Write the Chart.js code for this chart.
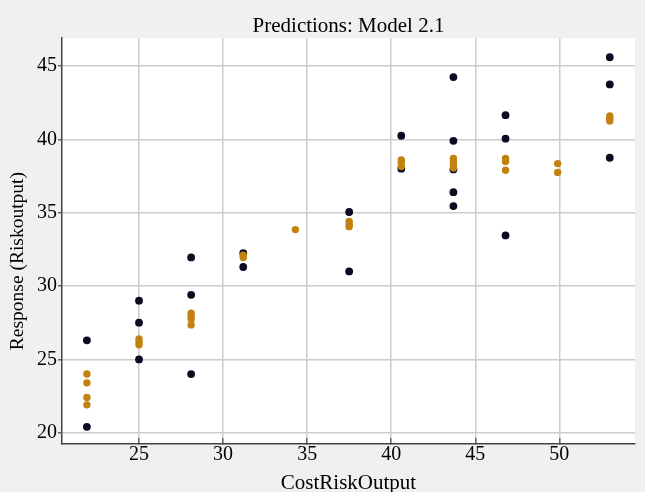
<!DOCTYPE html>
<html>
<head>
<meta charset="utf-8">
<script src="https://cdn.jsdelivr.net/npm/chart.js@4"></script>
<style>
  body { margin: 0; background: #f0f0f0; }
  #wrap { width: 645px; height: 492px; }
</style>
</head>
<body>
<div id="wrap"><canvas id="predChart"></canvas></div>
<script>
// x positions of the design points (CostRiskOutput)
const xLevels = [21.9, 25.0, 28.1, 31.2, 34.3, 37.5, 40.6, 43.7, 46.8, 49.9, 53.0];

// observed responses per x level
const observed = [
  [26.3, 20.4],
  [29.0, 27.5, 25.0],
  [31.95, 29.4, 24.0],
  [32.25, 31.3],
  [],
  [35.05, 31.0],
  [40.25, 38.0],
  [44.25, 39.9, 37.95, 36.4, 35.45],
  [41.65, 40.05, 33.45],
  [],
  [45.6, 43.75, 38.75]
];

// model predictions per x level
const predicted = [
  [24.0, 23.4, 22.4, 21.9],
  [26.4, 26.2, 26.0],
  [28.15, 27.95, 27.75, 27.35],
  [32.1, 31.95],
  [33.85],
  [34.4, 34.2, 34.05],
  [38.6, 38.4, 38.15],
  [38.7, 38.45, 38.25, 38.05],
  [38.7, 38.5, 37.9],
  [38.35, 37.75],
  [41.6, 41.45, 41.25]
];

const xTicks = [25, 30, 35, 40, 45, 50];
const yTicks = [20, 25, 30, 35, 40, 45];

function toPoints(groups) {
  const pts = [];
  groups.forEach((ys, i) => ys.forEach(y => pts.push({ x: xLevels[i], y: y })));
  return pts;
}

const serif = 'Liberation Serif, Times New Roman, serif';

const plotBg = {
  id: 'plotBg',
  beforeDraw(chart) {
    const { ctx, chartArea } = chart;
    ctx.save();
    ctx.fillStyle = '#f0f0f0';
    ctx.fillRect(0, 0, chart.width, chart.height);
    ctx.fillStyle = '#ffffff';
    ctx.fillRect(chartArea.left, chartArea.top, chartArea.right - chartArea.left, chartArea.bottom - chartArea.top);
    ctx.restore();
  }
};

// y axis title sits a bit below the middle of the axis in the original
const yTitle = {
  id: 'yTitle',
  afterDraw(chart) {
    const { ctx, chartArea } = chart;
    ctx.save();
    ctx.translate(18, (chartArea.top + chartArea.bottom) / 2 + 20);
    ctx.rotate(-Math.PI / 2);
    ctx.font = '19.5px ' + serif;
    ctx.fillStyle = '#000';
    ctx.textAlign = 'center';
    ctx.textBaseline = 'middle';
    ctx.fillText('Response (Riskoutput)', 0, 0);
    ctx.restore();
  }
};

new Chart(document.getElementById('predChart'), {
  type: 'scatter',
  data: {
    datasets: [{
      label: 'Predicted',
      data: toPoints(predicted),
      backgroundColor: '#c2820f',
      borderWidth: 0,
      pointRadius: 3.7
    }, {
      label: 'Observed',
      data: toPoints(observed),
      backgroundColor: '#0b0b22',
      borderWidth: 0,
      pointRadius: 3.9
    }]
  },
  options: {
    responsive: true,
    maintainAspectRatio: false,
    animation: false,
    layout: { padding: { left: 0, right: 10, top: 0, bottom: 0 } },
    plugins: {
      legend: { display: false },
      tooltip: { enabled: false },
      title: {
        display: true,
        text: 'Predictions: Model 2.1',
        fullSize: false,
        color: '#000',
        font: { family: serif, size: 21, weight: 'normal' },
        padding: { top: 14, bottom: -1 }
      }
    },
    scales: {
      x: {
        type: 'linear',
        min: 20.42,
        max: 54.5,
        afterBuildTicks: s => { s.ticks = xTicks.map(v => ({ value: v })); },
        afterFit: s => { s.height = 48; },
        grid: { color: '#cccccc', lineWidth: 1.5, drawTicks: true, tickLength: -6, tickColor: '#666' },
        border: { color: '#444', width: 1.5 },
        ticks: { color: '#000', padding: 5, font: { family: serif, size: 20 } },
        title: {
          display: true,
          text: 'CostRiskOutput',
          color: '#000',
          font: { family: serif, size: 21 },
          padding: { top: 0, bottom: -4 }
        }
      },
      y: {
        type: 'linear',
        min: 19.23,
        max: 46.9,
        afterBuildTicks: s => { s.ticks = yTicks.map(v => ({ value: v })); },
        afterFit: s => { s.width = 62; },
        grid: { color: '#cccccc', lineWidth: 1.5, drawTicks: true, tickLength: 4, tickColor: '#666' },
        border: { color: '#444', width: 1.5 },
        ticks: { color: '#000', padding: 1, font: { family: serif, size: 20 } },
        title: { display: false }
      }
    }
  },
  plugins: [plotBg, yTitle]
});
</script>
</body>
</html>
